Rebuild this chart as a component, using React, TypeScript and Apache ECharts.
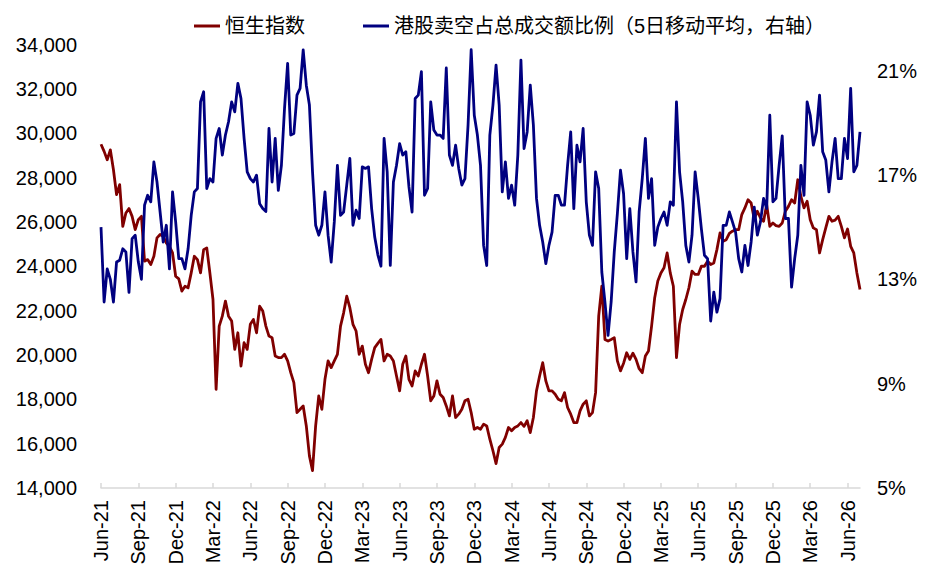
import React, { useEffect, useRef } from "react";
import * as echarts from "echarts";

// Quarter tick labels (one every 12 sampled points)
const tickLabels = [
  "Jun-21", "Sep-21", "Dec-21", "Mar-22", "Jun-22", "Sep-22", "Dec-22",
  "Mar-23", "Jun-23", "Sep-23", "Dec-23", "Mar-24", "Jun-24", "Sep-24",
  "Dec-24", "Mar-25", "Jun-25", "Sep-25", "Dec-25", "Mar-26", "Jun-26",
];
const POINTS_PER_QUARTER = 12;

// 恒生指数 (left axis)
const hsi = [
  29500, 29180, 28800, 29250, 28350, 27230, 27680, 25800, 26400, 26600,
  26250, 25650, 26100, 26250, 24230, 24300, 24080, 24450, 25280, 25430,
  25350, 25050, 24900, 24600, 23550, 23430, 22880, 23100, 23030, 23700,
  24450, 24300, 23700, 24750, 24830, 23700, 22500, 18450, 21300, 21750,
  22430, 21750, 21530, 20250, 21000, 19500, 20550, 20250, 21380, 21600,
  21000, 22200, 21980, 21300, 20850, 20780, 19950, 19880, 19880, 20030,
  19730, 19200, 18750, 17400, 17550, 17700, 16800, 15450, 14780, 16800,
  18150, 17550, 18900, 19730, 19430, 19730, 20030, 21300, 21900, 22650,
  22130, 21380,
  21080, 20030, 20400, 19580, 19200, 19800, 20330, 20520, 20700, 19730,
  20030, 19950, 19730, 19050, 18380, 19580, 19950, 18900, 18600, 19280,
  19050, 19580, 20030, 19050, 17930, 18150, 18830, 18230, 18080, 17700,
  17250, 18150, 17180, 17330, 17550, 17930, 18000, 17400, 16650, 16730,
  16650, 16880,
  16800, 16200, 15680, 15100, 15830, 15980, 16280, 16730, 16580, 16730,
  16800, 16950, 16780, 17030, 16500, 17180, 18380, 19050, 19650, 18830,
  18380, 18380, 18230, 18000, 17930, 18300, 17630, 17330, 16950, 16950,
  17480, 17780, 17930, 17250, 17400, 18300, 21750, 23100, 20700, 20630,
  20700, 20780,
  19730, 19280, 19630, 20100, 19800, 20080, 19800, 19380, 19200, 19950,
  20180, 21300, 22580, 23330, 23700, 23930, 24600, 23700, 23100, 19880,
  21380, 22050, 22500, 23030, 23780, 23630, 23630, 24000, 24000, 24230,
  24080, 24150, 24750, 25500, 25130, 25200, 25480, 25580, 25650, 25650,
  26330, 26630,
  27000, 26850, 26130, 26480, 26180, 26030, 26780, 25800, 25950, 25830,
  25800, 25950, 26480, 26700, 27000, 26850, 27900, 27150, 26630, 26930,
  26100, 25730, 25650, 24600, 25200, 25730, 26250, 26030, 26080, 26250,
  25800, 25280, 25680, 24900, 24600, 23700, 22950,
];

// 港股卖空占总成交额比例（5日移动平均），% (right axis)
const shortRatio = [
  15.0, 12.13, 13.4, 13.0, 12.13, 13.66, 13.73, 14.17, 14.05, 12.5,
  14.56, 14.69, 13.66, 13.0, 15.84, 16.22, 15.97, 17.5, 16.73, 15.58,
  14.43, 15.07, 13.4, 16.35, 15.2, 13.79, 13.79, 13.4, 14.17, 15.45,
  16.35, 16.48, 19.8, 20.19, 16.48, 16.86, 16.73, 18.4, 18.78, 17.76,
  18.53, 19.04, 19.8, 19.42, 20.51, 19.93, 18.4, 17.12, 16.86, 16.73,
  16.99, 15.9, 15.71, 15.6, 18.78, 16.73, 18.4, 16.41, 17.37, 19.55,
  21.28, 18.53, 18.59, 20.06, 20.32, 21.79, 20.44, 19.68, 17.12, 15.07,
  14.69, 15.07, 16.35, 14.69, 13.66, 15.2, 17.37, 15.45, 15.58, 16.61,
  17.63, 15.07,
  15.65, 15.33, 17.31, 17.25, 17.31, 15.71, 14.62, 13.94, 13.5, 18.4,
  17.12, 13.53, 16.73, 17.37, 18.2, 17.76, 17.89, 16.54, 15.58, 19.93,
  20.06, 20.96, 16.22, 16.48, 19.8, 18.72, 18.53, 18.53, 18.4, 21.1,
  17.76, 17.37, 18.14, 17.25, 16.61, 16.86, 18.91, 21.8, 19.29, 18.53,
  17.37, 14.3,
  13.53, 18.53, 19.68, 21.21, 19.68, 16.35, 17.5, 16.1, 16.61, 15.84,
  17.76, 21.4, 18.01, 18.65, 20.44, 18.91, 16.1, 15.07, 14.43, 13.6,
  14.3, 14.81, 16.22, 16.22, 15.84, 15.84, 17.37, 18.65, 15.71, 18.14,
  17.5, 18.78, 15.97, 14.69, 14.3, 17.12, 16.48, 13.28, 12.13, 10.85,
  12.13, 14.05,
  15.52, 17.18, 16.28, 13.79, 15.71, 14.05, 12.9, 15.58, 16.86, 18.4,
  16.1, 16.86, 14.3, 15.0, 15.33, 15.58, 15.07, 15.97, 15.84, 19.8,
  17.12, 15.97, 14.3, 13.66, 14.69, 17.12, 16.1, 14.94, 13.92, 13.79,
  11.4, 12.51, 11.74, 12.26, 15.07, 15.07, 15.58, 15.2, 14.81, 13.79,
  13.28, 14.3,
  13.53, 14.43, 15.77, 14.69, 15.2, 16.1, 15.71, 19.29, 15.97, 16.1,
  17.37, 18.5, 15.33, 15.33, 12.7, 13.79, 14.69, 17.37, 16.22, 19.8,
  19.29, 18.14, 18.65, 20.06, 17.89, 17.57, 16.35, 17.5, 18.4, 16.86,
  16.86, 18.4, 17.63, 20.32, 17.12, 17.37, 18.65,
];

const rightAxisLabels = [5, 9, 13, 17, 21];

const categories = hsi.map((_, i) =>
  i % POINTS_PER_QUARTER === 0
    ? tickLabels[i / POINTS_PER_QUARTER]
    : `${tickLabels[Math.floor(i / POINTS_PER_QUARTER)]}#${i % POINTS_PER_QUARTER}`
);

const FONT = '"Liberation Sans", Arial, "Noto Sans CJK SC", sans-serif';

export default function App() {
  const ref = useRef<HTMLDivElement>(null);

  useEffect(() => {
    if (!ref.current) return;
    const chart = echarts.init(ref.current, undefined, { renderer: "svg" });
    chart.setOption({
      animation: false,
      backgroundColor: "#ffffff",
      textStyle: { fontFamily: FONT },
      legend: {
        left: 194,
        top: 16,
        padding: 0,
        itemGap: 58,
        itemWidth: 26,
        itemHeight: 3,
        icon: "rect",
        textStyle: { fontSize: 20, color: "#000", fontFamily: FONT },
        data: ["恒生指数", "港股卖空占总成交额比例（5日移动平均，右轴）"],
      },
      grid: { left: 101, right: 71, top: 44.5, bottom: 88, containLabel: false },
      xAxis: {
        type: "category",
        boundaryGap: false,
        data: categories,
        axisLine: { show: true, lineStyle: { color: "#d9d9d9", width: 1.5 } },
        axisTick: {
          show: true,
          inside: true,
          length: 5,
          interval: POINTS_PER_QUARTER - 1,
          lineStyle: { color: "#d9d9d9", width: 1.5 },
        },
        axisLabel: {
          interval: POINTS_PER_QUARTER - 1,
          rotate: 90,
          margin: 12,
          fontSize: 20,
          color: "#000",
          fontFamily: FONT,
          formatter: (v: string) => (v.includes("#") ? "" : v),
        },
        splitLine: { show: false },
      },
      yAxis: [
        {
          type: "value",
          min: 14000,
          max: 34000,
          interval: 2000,
          axisLine: { show: false },
          axisTick: { show: false },
          splitLine: { show: false },
          axisLabel: {
            margin: 24,
            fontSize: 20,
            color: "#000",
            fontFamily: FONT,
            formatter: (v: number) => v.toLocaleString("en-US"),
          },
        },
        {
          type: "value",
          min: 5,
          max: 22,
          interval: 1,
          position: "right",
          axisLine: { show: false },
          axisTick: { show: false },
          splitLine: { show: false },
          axisLabel: {
            margin: 17,
            fontSize: 20,
            color: "#000",
            fontFamily: FONT,
            showMaxLabel: false,
            formatter: (v: number) =>
              rightAxisLabels.indexOf(Math.round(v)) >= 0 ? `${Math.round(v)}%` : "",
          },
        },
      ],
      series: [
        {
          name: "恒生指数",
          type: "line",
          yAxisIndex: 0,
          data: hsi,
          symbol: "none",
          itemStyle: { color: "#800000" },
          lineStyle: { color: "#800000", width: 2.8, join: "round" },
        },
        {
          name: "港股卖空占总成交额比例（5日移动平均，右轴）",
          type: "line",
          yAxisIndex: 1,
          data: shortRatio,
          symbol: "none",
          itemStyle: { color: "#000080" },
          lineStyle: { color: "#000080", width: 2.8, join: "round" },
        },
      ],
    });
    return () => chart.dispose();
  }, []);

  return (
    <div
      ref={ref}
      style={{ position: "fixed", left: 0, top: 0, width: 931, height: 576, background: "#fff" }}
    />
  );
}
